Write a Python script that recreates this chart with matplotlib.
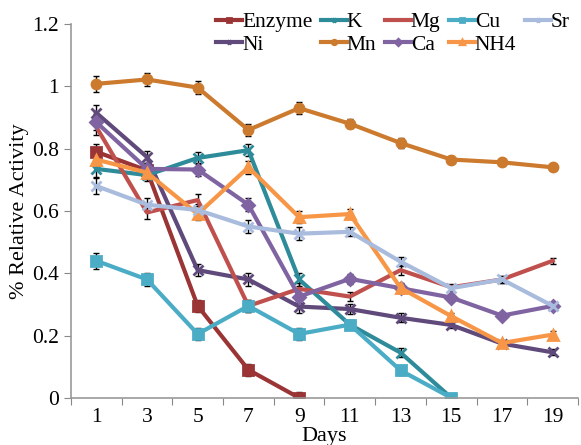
import matplotlib.pyplot as plt

plt.rcParams['font.family'] = ['Liberation Serif', 'DejaVu Serif']

days = [1, 3, 5, 7, 9, 11, 13, 15, 17, 19]

enzyme = [0.79, 0.73, 0.295, 0.09, 0.0]
k_ion = [0.735, 0.715, 0.77, 0.795, 0.38, 0.235, 0.145, 0.0]
mg = [0.87, 0.595, 0.635, 0.295, 0.35, 0.325, 0.41, 0.355, 0.38, 0.44]
cu = [0.44, 0.38, 0.205, 0.295, 0.205, 0.235, 0.088, 0.0]
sr = [0.68, 0.62, 0.603, 0.55, 0.527, 0.533, 0.437, 0.352, 0.38, 0.295]
ni = [0.915, 0.773, 0.41, 0.38, 0.293, 0.285, 0.257, 0.234, 0.174, 0.146]
mn = [1.008, 1.022, 0.996, 0.86, 0.93, 0.88, 0.818, 0.765, 0.756, 0.74]
ca = [0.885, 0.735, 0.733, 0.62, 0.325, 0.382, 0.352, 0.322, 0.264, 0.295]
nh4 = [0.765, 0.723, 0.59, 0.74, 0.58, 0.59, 0.353, 0.262, 0.176, 0.203]

err = [0.025, 0.02, 0.02, 0.02, 0.02, 0.015, 0.015, 0.01, 0.01, 0.01]

series = [
    ('Enzyme', enzyme, '#9B3535', 's'),
    ('Ni', ni, '#604A7B', 'x'),
    ('K', k_ion, '#2E8B9A', 'x'),
    ('Mn', mn, '#CC7A2E', 'o'),
    ('Mg', mg, '#C0504D', None),
    ('Ca', ca, '#8064A2', 'D'),
    ('Cu', cu, '#4BACC6', 's'),
    ('NH4', nh4, '#F79646', '^'),
    ('Sr', sr, '#A9BCDE', 'x'),
]

fig = plt.figure(figsize=(5.81, 4.45), dpi=100)
ax = fig.add_axes([0.122, 0.106, 0.873, 0.84])

for name, vals, col, mk in series:
    x = days[:len(vals)]
    ax.errorbar(x, vals, yerr=err[:len(vals)], fmt='none', ecolor='black',
                elinewidth=1, capsize=2.5, capthick=1, zorder=1)
    ax.plot(x, vals, color=col, lw=3, marker=mk, markersize=6.5,
            markeredgewidth=2, label=name, zorder=2)

ax.set_xlim(0, 20)
ax.set_ylim(0, 1.2)
ax.set_yticks([0, 0.2, 0.4, 0.6, 0.8, 1, 1.2])
ax.set_yticklabels(['0', '0.2', '0.4', '0.6', '0.8', '1', '1.2'])
ax.set_xticks(range(0, 21, 2))
ax.set_xticklabels([])
ax.set_xticks(days, minor=True)
ax.set_xticklabels([str(d) for d in days], minor=True)
ax.tick_params(axis='x', which='minor', length=0, pad=7)
ax.tick_params(axis='x', which='major', length=5, color='#888888')
ax.tick_params(axis='y', length=5, color='#888888')
ax.tick_params(labelsize=15.5, which='both')

for s in ['top', 'right']:
    ax.spines[s].set_visible(False)
for s in ['left', 'bottom']:
    ax.spines[s].set_color('#999999')
    ax.spines[s].set_linewidth(1.2)

ax.set_ylabel('% Relative Activity', fontsize=16, labelpad=2)
ax.set_xlabel('Days', fontsize=16, labelpad=0)

ax.legend(ncol=5, loc='upper right', bbox_to_anchor=(1.005, 1.06), frameon=False,
          fontsize=15.5, handlelength=1.2, handletextpad=0.0, columnspacing=0.4,
          labelspacing=0.1, borderpad=0, markerscale=0.5)

fig.savefig('out.png', dpi=100)
